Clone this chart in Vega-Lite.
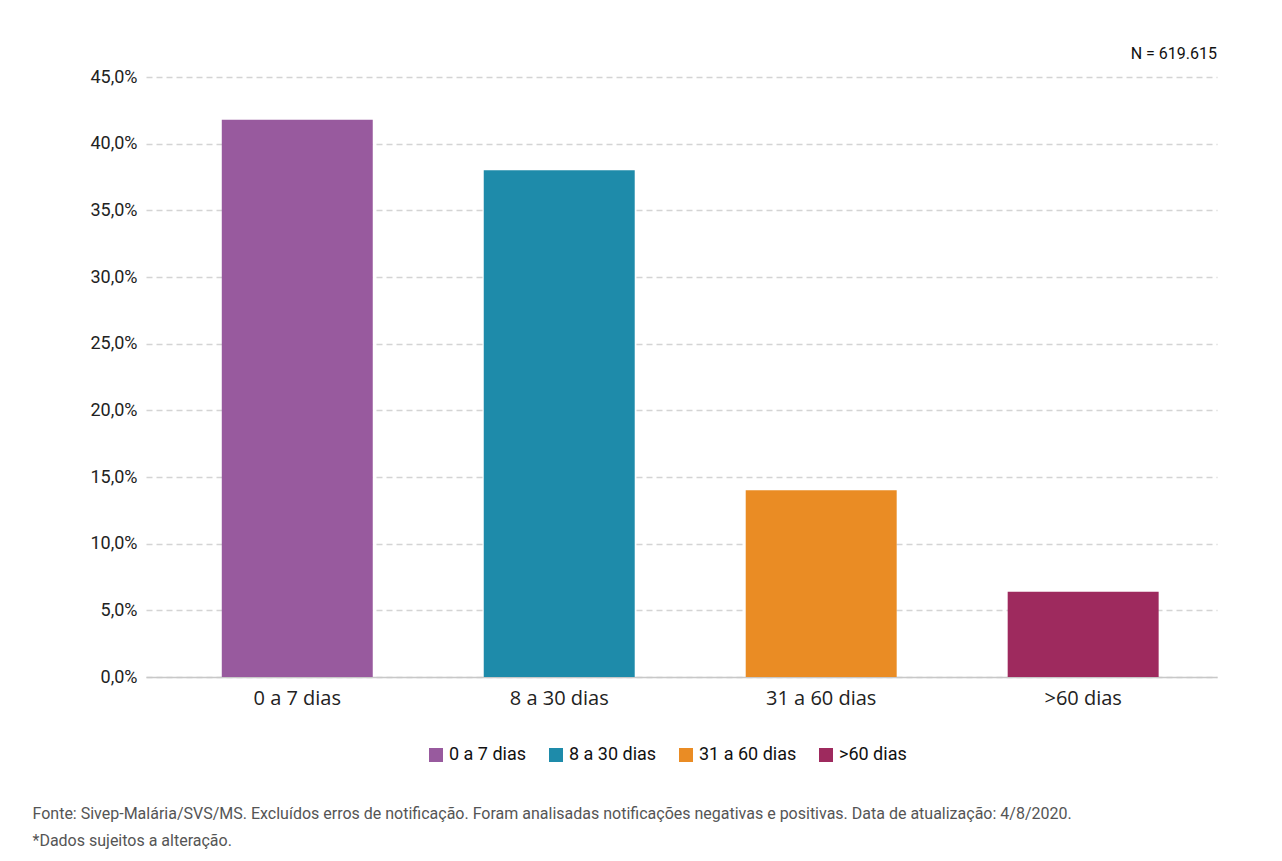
{
  "$schema": "https://vega.github.io/schema/vega-lite/v6.json",
  "width": 1071,
  "height": 600,
  "autosize": {"type": "none"},
  "padding": {"left": 146, "top": 77, "right": 65, "bottom": 184},
  "background": "white",
  "title": {
    "text": "N = 619.615",
    "anchor": "end",
    "frame": "group",
    "orient": "top",
    "offset": 6,
    "font": "Roboto",
    "fontSize": 16,
    "fontWeight": "normal",
    "color": "#111111"
  },
  "data": {
    "values": [
      {"periodo": "0 a 7 dias", "percentual": 41.8},
      {"periodo": "8 a 30 dias", "percentual": 38.0},
      {"periodo": "31 a 60 dias", "percentual": 14.0},
      {"periodo": ">60 dias", "percentual": 6.4}
    ]
  },
  "mark": {"type": "bar"},
  "encoding": {
    "x": {
      "field": "periodo",
      "type": "nominal",
      "sort": ["0 a 7 dias", "8 a 30 dias", "31 a 60 dias", ">60 dias"],
      "scale": {"paddingInner": 0.4237, "paddingOuter": 0.256, "align": 0.565},
      "axis": {
        "title": [
          "Fonte: Sivep-Malária/SVS/MS. Excluídos erros de notificação. Foram analisadas notificações negativas e positivas. Data de atualização: 4/8/2020.",
          "*Dados sujeitos a alteração."
        ],
        "titleX": -114,
        "titleY": 128,
        "titleAlign": "left",
        "titleBaseline": "top",
        "titleAngle": 0,
        "titleFont": "Roboto",
        "titleFontSize": 16,
        "titleFontWeight": "normal",
        "titleColor": "#555555",
        "titleLineHeight": 27,
        "labelAngle": 0,
        "labelFont": "Open Sans",
        "labelFontSize": 20,
        "labelColor": "#222222",
        "labelPadding": 11,
        "ticks": false,
        "grid": false,
        "domainColor": "#c8c8c8",
        "domainWidth": 1.5
      }
    },
    "y": {
      "field": "percentual",
      "type": "quantitative",
      "scale": {"domain": [0, 45]},
      "axis": {
        "title": null,
        "values": [0, 5, 10, 15, 20, 25, 30, 35, 40, 45],
        "labelExpr": "replace(format(datum.value, '.1f'), '.', ',') + '%'",
        "labelFont": "Roboto",
        "labelFontSize": 18,
        "labelColor": "#222222",
        "labelPadding": 9,
        "ticks": false,
        "domain": false,
        "grid": true,
        "gridDash": [6, 4],
        "gridColor": "#d4d4d4",
        "gridWidth": 1.5
      }
    },
    "color": {
      "field": "periodo",
      "type": "nominal",
      "scale": {
        "domain": ["0 a 7 dias", "8 a 30 dias", "31 a 60 dias", ">60 dias"],
        "range": ["#985A9E", "#1E8BAA", "#EA8C24", "#9E2A5E"]
      },
      "legend": {
        "title": null,
        "orient": "none",
        "legendX": 281,
        "legendY": 669,
        "direction": "horizontal",
        "symbolType": "square",
        "symbolSize": 196,
        "symbolStrokeWidth": 0,
        "symbolOpacity": 1,
        "labelFont": "Roboto",
        "labelFontSize": 18,
        "labelColor": "#111111",
        "labelOffset": 4,
        "columnPadding": 20
      }
    }
  },
  "config": {"view": {"stroke": null}}
}
